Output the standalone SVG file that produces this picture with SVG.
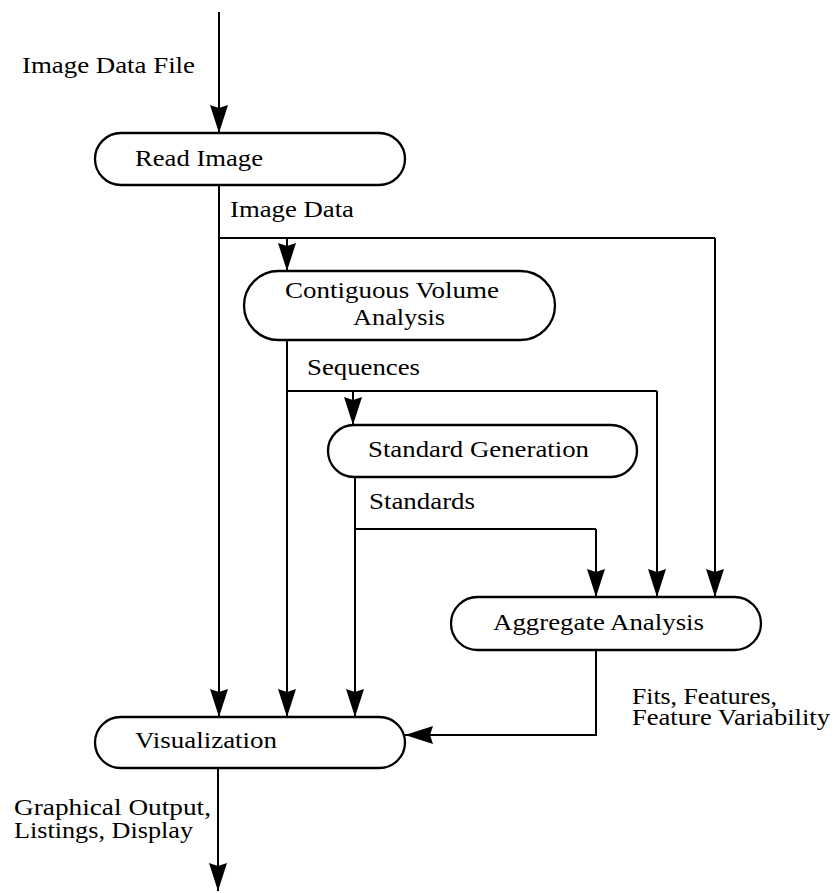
<svg xmlns="http://www.w3.org/2000/svg" width="834" height="893" viewBox="0 0 834 893">
<defs>
<marker id="ah" viewBox="0 0 28 18" refX="28" refY="9" markerWidth="28" markerHeight="18" markerUnits="userSpaceOnUse" orient="auto">
<path d="M0,0 L28,9 L0,18 L3,9 Z" fill="#000"/>
</marker>
</defs>
<style>
.box{fill:#fff;stroke:#000;stroke-width:2.3}
.ln{fill:none;stroke:#000;stroke-width:2}
.arr{marker-end:url(#ah)}
text{font-family:"Liberation Serif","Times New Roman",serif;font-size:24px;fill:#000}
</style>
<rect width="834" height="893" fill="#fff"/>
<g id="connectors">
<path class="ln arr" d="M219,12 V133"/>
<path class="ln arr" d="M219,185 V717"/>
<path class="ln" d="M219,238 H715"/>
<path class="ln arr" d="M287,238 V271"/>
<path class="ln arr" d="M715,238 V597"/>
<path class="ln arr" d="M287,340 V717"/>
<path class="ln" d="M287,391 H657"/>
<path class="ln arr" d="M353,391 V425"/>
<path class="ln arr" d="M657,391 V597"/>
<path class="ln arr" d="M355,477 V717"/>
<path class="ln" d="M355,529 H596"/>
<path class="ln arr" d="M596,529 V597"/>
<path class="ln arr" d="M596,650 V735 H405"/>
<path class="ln arr" d="M218,768 V891"/>
</g>
<g id="labels">
<text x="22" y="73" textLength="173" lengthAdjust="spacingAndGlyphs">Image Data File</text>
<text x="230" y="217" textLength="124" lengthAdjust="spacingAndGlyphs">Image Data</text>
<text x="307" y="375" textLength="113" lengthAdjust="spacingAndGlyphs">Sequences</text>
<text x="369" y="509" textLength="106" lengthAdjust="spacingAndGlyphs">Standards</text>
<text x="632" y="704"><tspan x="632" y="704" textLength="145" lengthAdjust="spacingAndGlyphs">Fits, Features,</tspan><tspan x="632" y="725" textLength="198" lengthAdjust="spacingAndGlyphs">Feature Variability</tspan></text>
<text x="14" y="815"><tspan x="14" y="815" textLength="197" lengthAdjust="spacingAndGlyphs">Graphical Output,</tspan><tspan x="14" y="838" textLength="179" lengthAdjust="spacingAndGlyphs">Listings, Display</tspan></text>
</g>
<g id="read-image">
<rect class="box" x="95" y="133" width="310" height="52" rx="26"/>
<text x="135" y="166" textLength="128" lengthAdjust="spacingAndGlyphs">Read Image</text>
</g>
<g id="contiguous-volume-analysis">
<rect class="box" x="244" y="271" width="311" height="69" rx="34.5"/>
<text x="285" y="298" textLength="214" lengthAdjust="spacingAndGlyphs">Contiguous Volume</text>
<text x="353" y="325" textLength="92" lengthAdjust="spacingAndGlyphs">Analysis</text>
</g>
<g id="standard-generation">
<rect class="box" x="328" y="425" width="309" height="52" rx="26"/>
<text x="368" y="457" textLength="221" lengthAdjust="spacingAndGlyphs">Standard Generation</text>
</g>
<g id="aggregate-analysis">
<rect class="box" x="451" y="597" width="310" height="53" rx="26.5"/>
<text x="493" y="630" textLength="211" lengthAdjust="spacingAndGlyphs">Aggregate Analysis</text>
</g>
<g id="visualization">
<rect class="box" x="95" y="717" width="310" height="51" rx="25.5"/>
<text x="135" y="748" textLength="142" lengthAdjust="spacingAndGlyphs">Visualization</text>
</g>
</svg>
